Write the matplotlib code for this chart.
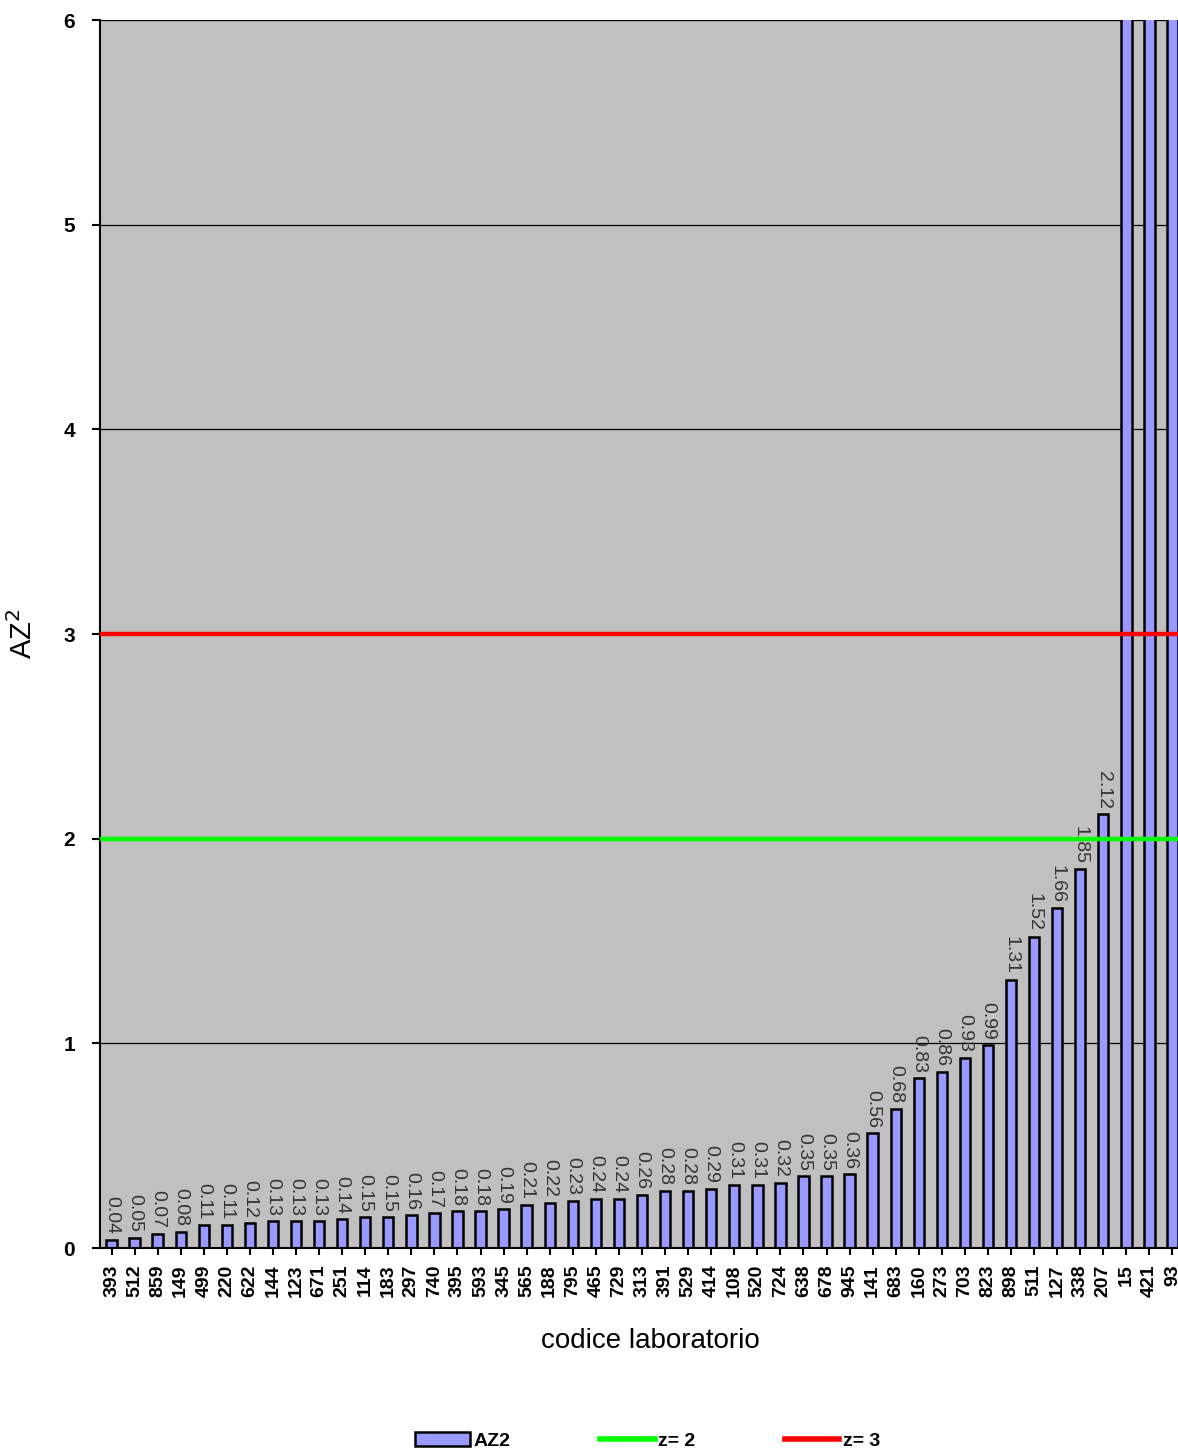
import numpy as np
import matplotlib.pyplot as plt
from matplotlib.patches import Patch
from matplotlib.lines import Line2D

plt.rcParams['font.family'] = ['Liberation Sans', 'DejaVu Sans']

labs = ['393', '512', '859', '149', '499', '220', '622', '144', '123', '671',
        '251', '114', '183', '297', '740', '395', '593', '345', '565', '188',
        '795', '465', '729', '313', '391', '529', '414', '108', '520', '724',
        '638', '678', '945', '141', '683', '160', '273', '703', '823', '898',
        '511', '127', '338', '207', '15', '421', '93']
az2 = [0.04, 0.05, 0.07, 0.08, 0.11, 0.11, 0.12, 0.13, 0.13, 0.13,
       0.14, 0.15, 0.15, 0.16, 0.17, 0.18, 0.18, 0.19, 0.21, 0.22,
       0.23, 0.24, 0.24, 0.26, 0.28, 0.28, 0.29, 0.31, 0.31, 0.32,
       0.35, 0.35, 0.36, 0.56, 0.68, 0.83, 0.86, 0.93, 0.99, 1.31,
       1.52, 1.66, 1.85, 2.12, 8.0, 10.0, 12.0]  # last three are off the scale
z_lines = [2, 3]

fig = plt.figure(figsize=(11.78, 14.51), dpi=100)
ax = fig.add_axes([100 / 1178, 203 / 1451, 1084 / 1178, 1228 / 1451])
ax.set_facecolor('#C0C0C0')

x = np.arange(len(labs))
ax.bar(x, az2, width=0.45, color='#9999FF', edgecolor='black', linewidth=1.8, zorder=2)
for xi, v in zip(x, az2):
    if v <= 6:
        ax.annotate('%.2f' % v, (xi, v), xytext=(0, 4), textcoords='offset points',
                    rotation=-90, ha='center', va='bottom', fontsize=14, color='#333333')

ax.axhline(z_lines[0], color='#00FF00', lw=3.2, zorder=3)
ax.axhline(z_lines[1], color='#FF0000', lw=3.2, zorder=3)

ax.set_xlim(-0.5, len(labs) - 0.5)
ax.set_ylim(0, 6)
ax.set_yticks(range(7))
ax.yaxis.grid(True, color='black', lw=0.9, zorder=1)
ax.set_axisbelow(True)
ax.set_xticks(x)
ax.set_xticklabels(labs, rotation=90, fontsize=14, fontweight='bold')
ax.tick_params(axis='x', length=5, width=1.5, pad=7, direction='out')
ax.tick_params(axis='y', length=6, width=1.5, pad=12, labelsize=15)
for t in ax.get_yticklabels():
    t.set_fontweight('bold')
ax.spines['top'].set_visible(False)
ax.spines['right'].set_visible(False)
ax.spines['left'].set_linewidth(1.5)
ax.spines['bottom'].set_linewidth(1.5)

ax.set_ylabel('AZ$^2$', fontsize=21, labelpad=18)
fig.text(650 / 1178, 1 - 1341 / 1451, 'codice laboratorio', fontsize=20,
         ha='center', va='center')

handles = [Patch(facecolor='#9999FF', edgecolor='black', linewidth=1.8),
           Line2D([], [], color='#00FF00', lw=4),
           Line2D([], [], color='#FF0000', lw=4)]
fig.legend(handles, ['AZ2', 'z= 2', 'z= 3'], loc='center', ncol=3,
           bbox_to_anchor=(648 / 1178, 1 - 1441 / 1451), frameon=False,
           prop={'weight': 'bold', 'size': 14}, handlelength=2.8, handletextpad=0.2,
           columnspacing=4.6)

fig.savefig('out.png', dpi=100)
